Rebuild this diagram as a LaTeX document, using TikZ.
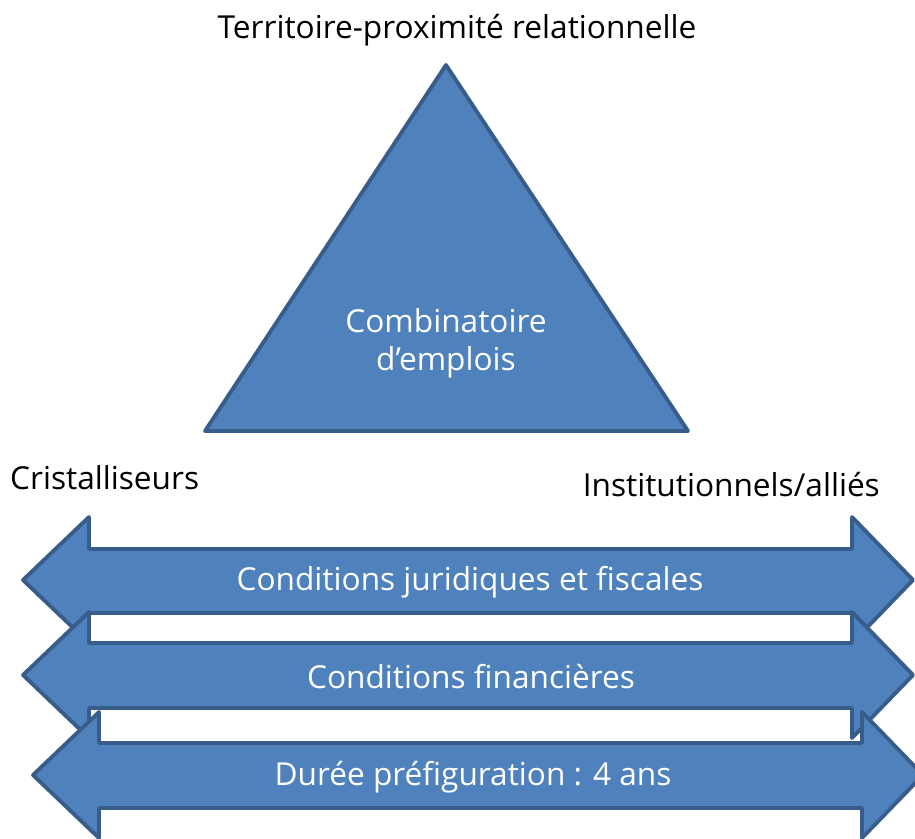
\documentclass[tikz,border=0pt]{standalone}
\usepackage{fontspec}
\setmainfont{Open Sans}
\usepackage{tikz}
\usepackage{xcolor}

\definecolor{bleu}{HTML}{4F81BD}
\definecolor{bleufonce}{HTML}{385D8A}

\tikzset{
  forme/.style={fill=bleu,draw=bleufonce,line width=2.2pt,line join=round},
  blanc/.style={text=white,font=\fontsize{18}{21.5}\selectfont},
  noir/.style={text=black,font=\fontsize{18}{21.5}\selectfont}
}

\begin{document}
\begin{tikzpicture}[x=0.02cm,y=-0.02cm]
  \useasboundingbox (0,0) rectangle (915,838);
  \clip (0,0) rectangle (915,838);
  \node[noir] (territoire) at (457,30) {Territoire-proximité relationnelle};
  \draw[forme] (446,65) -- (688,431) -- (205,431) -- cycle;
  \node[blanc,align=center] (combi) at (446,343) {Combinatoire\\d’emplois};
  \node[noir,anchor=west] (crist) at (4,478) {Cristalliseurs};
  \node[noir,anchor=east] (instit) at (886,485) {Institutionnels/alliés};
  % fleches doubles
  \draw[forme] (23,580) -- (89,517) -- (89,549) -- (852,549) -- (852,517) -- (913,580)
    -- (852,643) -- (852,613) -- (89,613) -- (89,643) -- cycle;
  \node[blanc] (juridique) at (470,582) {Conditions juridiques et fiscales};
  \draw[forme] (23,675) -- (89,612) -- (89,643) -- (852,643) -- (852,612) -- (913,675)
    -- (852,738) -- (852,708) -- (89,708) -- (89,738) -- cycle;
  \node[blanc] (financiere) at (471,677) {Conditions financières};
  \draw[forme] (33,775) -- (99,712) -- (99,743) -- (862,743) -- (862,712) -- (923,775)
    -- (862,838) -- (862,808) -- (99,808) -- (99,838) -- cycle;
  \node[blanc] (duree) at (473,777) {Durée préfiguration : 4 ans};
\end{tikzpicture}
\end{document}
